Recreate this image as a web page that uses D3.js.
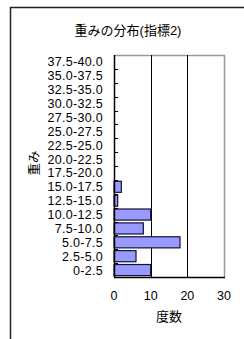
<!DOCTYPE html>
<html>
<head>
<meta charset="utf-8">
<script src="https://cdn.jsdelivr.net/npm/d3@7"></script>
<style>
  body { margin: 0; background: #fff; }
  text { font-family: "Liberation Sans", Arial, "Noto Sans CJK JP", sans-serif; fill: #000; }
</style>
</head>
<body>
<div id="chart"></div>
<script>
// bins of the weight distribution (bottom to top)
var categories = ["0-2.5", "2.5-5.0", "5.0-7.5", "7.5-10.0", "10.0-12.5", "12.5-15.0", "15.0-17.5",
  "17.5-20.0", "20.0-22.5", "22.5-25.0", "25.0-27.5", "27.5-30.0", "30.0-32.5", "32.5-35.0",
  "35.0-37.5", "37.5-40.0"]
var counts = [10, 6, 18, 8, 10, 1, 2, 0, 0, 0, 0, 0, 0, 0, 0, 0]
var xTicks = [0, 10, 20, 30]

var title = "重みの分布(指標2)"
var xTitle = "度数"
var yTitle = "重み"

var width = 244
var height = 339
var margin = { top: 55, right: 20, bottom: 62, left: 114 }
var plotW = width - margin.left - margin.right
var plotH = height - margin.top - margin.bottom

var svg = d3.select("#chart")
  .append("svg")
    .attr("width", width)
    .attr("height", height)

// outer chart frame (runs off the right/bottom edge)
svg.append("path")
  .attr("d", "M10.5," + (height + 2) + "V7.5H" + (width + 2))
  .attr("fill", "none")
  .attr("stroke", "#222")
  .attr("stroke-width", 1.5)

svg.append("text")
  .attr("x", 128)
  .attr("y", 35)
  .attr("text-anchor", "middle")
  .style("font-size", "13px")
  .text(title)

var g = svg.append("g")
  .attr("transform", "translate(" + margin.left + "," + margin.top + ")")

var x = d3.scaleLinear()
  .domain([0, 30])
  .range([0, plotW])

var y = d3.scaleBand()
  .domain(categories.slice().reverse())
  .range([0, plotH])
  .paddingInner(0.2)
  .paddingOuter(0.1)

// plot area border (grey top/right)
g.append("path")
  .attr("d", "M0,0.5H" + (plotW + 0.5) + "V" + plotH)
  .attr("fill", "none")
  .attr("stroke", "#999")
  .attr("stroke-width", 1.5)

// vertical gridlines
g.selectAll(".grid")
  .data(xTicks.filter(function(d){ return d > 0 && d < 30 }))
  .enter()
  .append("line")
    .attr("x1", function(d){ return Math.round(x(d)) + 0.5 })
    .attr("x2", function(d){ return Math.round(x(d)) + 0.5 })
    .attr("y1", 0)
    .attr("y2", plotH)
    .attr("stroke", "#000")
    .attr("stroke-width", 1)

// bars
g.selectAll(".bar")
  .data(categories)
  .enter()
  .append("rect")
    .attr("x", 0)
    .attr("y", function(d){ return y(d) })
    .attr("width", function(d, i){ return x(counts[i]) })
    .attr("height", y.bandwidth())
    .attr("fill", "#9999ff")
    .attr("stroke", "#111133")
    .attr("stroke-width", 1.2)
    .style("display", function(d, i){ return counts[i] > 0 ? null : "none" })

// y axis: inner tick marks at band boundaries + category labels
var bounds = d3.range(1, categories.length)
g.selectAll(".ytick")
  .data(bounds)
  .enter()
  .append("line")
    .attr("x1", 0)
    .attr("x2", 4)
    .attr("y1", function(d){ return Math.round(d * plotH / categories.length) + 0.5 })
    .attr("y2", function(d){ return Math.round(d * plotH / categories.length) + 0.5 })
    .attr("stroke", "#000")

g.selectAll(".ylab")
  .data(categories)
  .enter()
  .append("text")
    .attr("x", -11)
    .attr("y", function(d){ return y(d) + y.bandwidth() / 2 })
    .attr("dy", "0.36em")
    .attr("text-anchor", "end")
    .style("font-size", "12.5px")
    .style("letter-spacing", "0.3px")
    .text(function(d){ return d })

// axis lines
g.append("line")
  .attr("x1", 0.5).attr("x2", 0.5)
  .attr("y1", 0).attr("y2", plotH)
  .attr("stroke", "#000").attr("stroke-width", 1.5)
g.append("line")
  .attr("x1", 0).attr("x2", plotW + 1)
  .attr("y1", plotH + 0.5).attr("y2", plotH + 0.5)
  .attr("stroke", "#000").attr("stroke-width", 1.5)

// x tick labels
g.selectAll(".xlab")
  .data(xTicks)
  .enter()
  .append("text")
    .attr("x", function(d){ return x(d) })
    .attr("y", plotH + 23)
    .attr("text-anchor", "middle")
    .style("font-size", "12.5px")
    .text(function(d){ return d })

g.append("text")
  .attr("x", plotW / 2)
  .attr("y", plotH + 44)
  .attr("text-anchor", "middle")
  .style("font-size", "13px")
  .text(xTitle)

svg.append("text")
  .attr("transform", "translate(39,163) rotate(-90)")
  .attr("text-anchor", "middle")
  .style("font-size", "12.5px")
  .text(yTitle)
</script>
</body>
</html>
